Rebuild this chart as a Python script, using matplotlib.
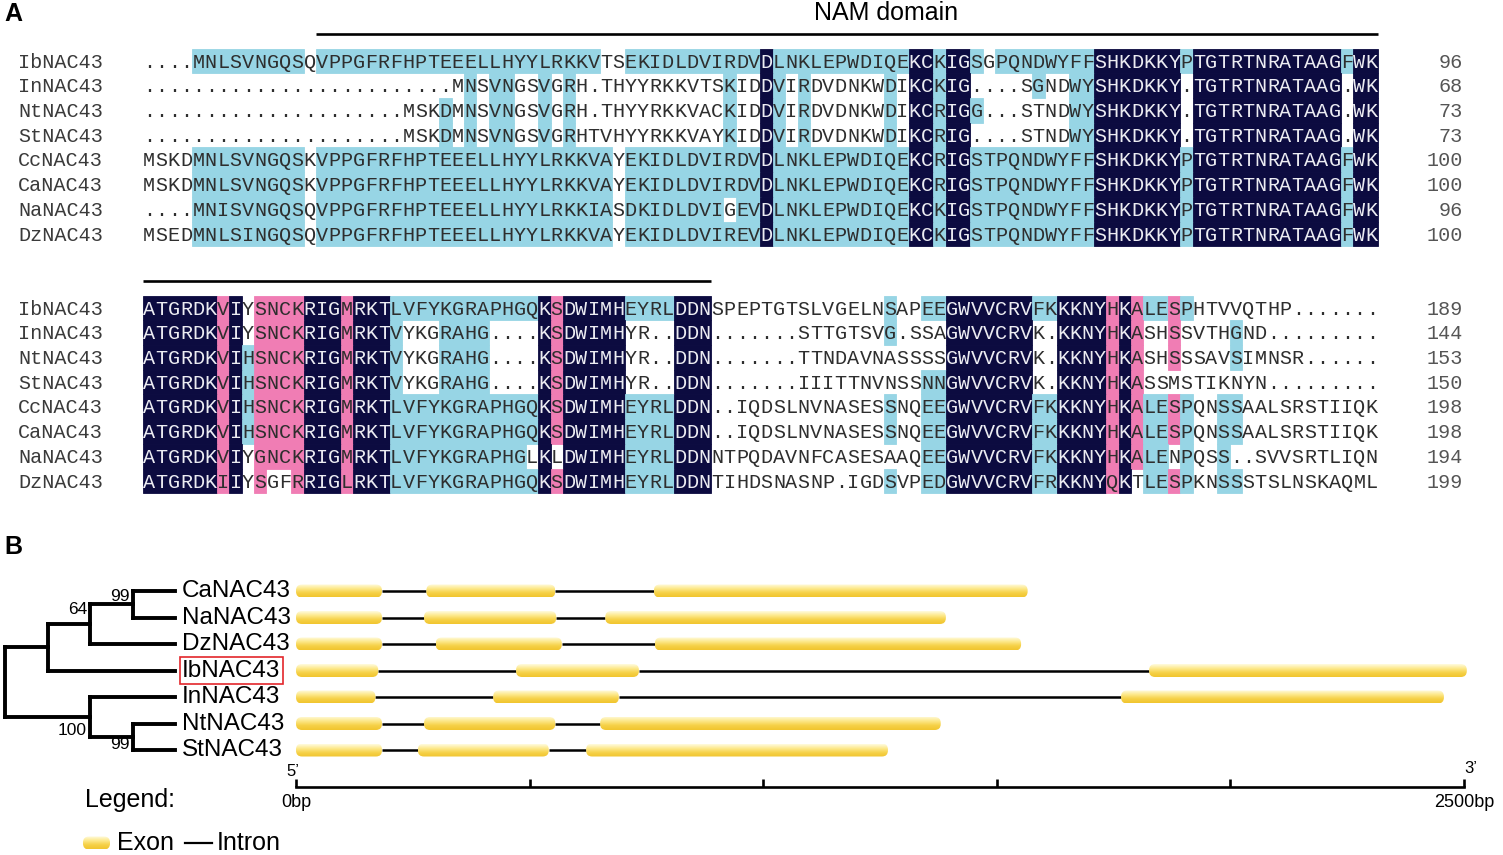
import numpy as np
import matplotlib
matplotlib.use('Agg')
import matplotlib.pyplot as plt
from matplotlib.patches import Rectangle, FancyBboxPatch
from matplotlib.colors import LinearSegmentedColormap

plt.rcParams['font.family'] = ['Liberation Sans', 'DejaVu Sans']

# ---------------- data: panel A (alignment) ----------------
names = ['IbNAC43', 'InNAC43', 'NtNAC43', 'StNAC43',
         'CcNAC43', 'CaNAC43', 'NaNAC43', 'DzNAC43']

block1_seqs = [
    '....MNLSVNGQSQVPPGFRFHPTEEELLHYYLRKKVTSEKIDLDVIRDVDLNKLEPWDIQEKCKIGSGPQNDWYFFSHKDKKYPTGTRTNRATAAGFWK',
    '.' * 25 + 'MNSVNGSVGRH.THYYRKKVTSKIDDVIRDVDNKWDIKCKIG....SGNDWYSHKDKKY.TGTRTNRATAAG.WK',
    '.' * 21 + 'MSKDMNSVNGSVGRH.THYYRKKVACKIDDVIRDVDNKWDIKCRIGG...STNDWYSHKDKKY.TGTRTNRATAAG.WK',
    '.' * 21 + 'MSKDMNSVNGSVGRHTVHYYRKKVAYKIDDVIRDVDNKWDIKCRIG....STNDWYSHKDKKY.TGTRTNRATAAG.WK',
    'MSKDMNLSVNGQSKVPPGFRFHPTEEELLHYYLRKKVAYEKIDLDVIRDVDLNKLEPWDIQEKCRIGSTPQNDWYFFSHKDKKYPTGTRTNRATAAGFWK',
    'MSKDMNLSVNGQSKVPPGFRFHPTEEELLHYYLRKKVAYEKIDLDVIRDVDLNKLEPWDIQEKCRIGSTPQNDWYFFSHKDKKYPTGTRTNRATAAGFWK',
    '....MNISVNGQSQVPPGFRFHPTEEELLHYYLRKKIASDKIDLDVIGEVDLNKLEPWDIQEKCKIGSTPQNDWYFFSHKDKKYPTGTRTNRATAAGFWK',
    'MSEDMNLSINGQSQVPPGFRFHPTEEELLHYYLRKKVAYEKIDLDVIREVDLNKLEPWDIQEKCKIGSTPQNDWYFFSHKDKKYPTGTRTNRATAAGFWK',
]
# shading per residue: n = 100% identity, p = >=75%, c = >=50%, - = none
block1_shade = [
    '----cccccc ccc-cccccc cccccccccc ccccccc--c cccccccccc nccccccccc ccnncnnc-c cccccccnnn nnnncnnnnn nnnnnnncnn',
    '---------- ---------- ------c-cc --c-c----- -------c-- nc-c------ c-nncnn--- --c--ccnnn nnnn-nnnnn nnnnnnn-nn',
    '---------- ---------- ----c-c-cc --c-c----- -------c-- nc-c------ c-nncnnc-- -----ccnnn nnnn-nnnnn nnnnnnn-nn',
    '---------- ---------- ----c-c-cc --c-c----- -------c-- nc-c------ c-nncnn--- -----ccnnn nnnn-nnnnn nnnnnnn-nn',
    '----cccccc ccc-cccccc cccccccccc cccccccc-c cccccccccc nccccccccc ccnncnnccc cccccccnnn nnnncnnnnn nnnnnnncnn',
    '----cccccc ccc-cccccc cccccccccc cccccccc-c cccccccccc nccccccccc ccnncnnccc cccccccnnn nnnncnnnnn nnnnnnncnn',
    '----cccccc ccc-cccccc cccccccccc cccccccc-c ccccccc-cc nccccccccc ccnncnnccc cccccccnnn nnnncnnnnn nnnnnnncnn',
    '----cccccc ccc-cccccc cccccccccc cccccccc-c cccccccccc nccccccccc ccnncnnccc cccccccnnn nnnncnnnnn nnnnnnncnn',
]
block1_ends = [96, 68, 73, 73, 100, 100, 96, 100]

block2_seqs = [
    'ATGRDKVIYSNCKRIGMRKTLVFYKGRAPHGQKSDWIMHEYRLDDNSPEPTGTSLVGELNSAPEEGWVVCRVFKKKNYHKALESPHTVVQTHP.......',
    'ATGRDKVIYSNCKRIGMRKTVYKGRAHG....KSDWIMHYR..DDN.......STTGTSVG.SSAGWVVCRVK.KKNYHKASHSSVTHGND.........',
    'ATGRDKVIHSNCKRIGMRKTVYKGRAHG....KSDWIMHYR..DDN.......TTNDAVNASSSSGWVVCRVK.KKNYHKASHSSSAVSIMNSR......',
    'ATGRDKVIHSNCKRIGMRKTVYKGRAHG....KSDWIMHYR..DDN.......IIITTNVNSSNNGWVVCRVK.KKNYHKASSMSTIKNYN.........',
    'ATGRDKVIHSNCKRIGMRKTLVFYKGRAPHGQKSDWIMHEYRLDDN..IQDSLNVNASESSNQEEGWVVCRVFKKKNYHKALESPQNSSAALSRSTIIQK',
    'ATGRDKVIHSNCKRIGMRKTLVFYKGRAPHGQKSDWIMHEYRLDDN..IQDSLNVNASESSNQEEGWVVCRVFKKKNYHKALESPQNSSAALSRSTIIQK',
    'ATGRDKVIYGNCKRIGMRKTLVFYKGRAPHGLKLDWIMHEYRLDDNNTPQDAVNFCASESAAQEEGWVVCRVFKKKNYHKALENPQSS..SVVSRTLIQN',
    'ATGRDKIIYSGFRRIGLRKTLVFYKGRAPHGQKSDWIMHEYRLDDNTIHDSNASNP.IGDSVPEDGWVVCRVFRKKNYQKTLESPKNSSSTSLNSKAQML',
]
block2_shade = [
    'nnnnnnpn-p pppnnnpnnn cccccccccc ccnpnnnnnc cccnnn---- ---------- c--ccnnnnn nnccnnnnpn pccpc----- ----------',
    'nnnnnnpn-p pppnnnpnnn c---cccc-- --npnnnnn- ---nnn---- ---------- c----nnnnn nn--nnnnpn p--p----c- ----------',
    'nnnnnnpncp pppnnnpnnn c---cccc-- --npnnnnn- ---nnn---- ---------- -----nnnnn nn--nnnnpn p--p----c- ----------',
    'nnnnnnpncp pppnnnpnnn c---cccc-- --npnnnnn- ---nnn---- ---------- ---ccnnnnn nn--nnnnpn p--------- ----------',
    'nnnnnnpncp pppnnnpnnn cccccccccc ccnpnnnnnc cccnnn---- ---------- c--ccnnnnn nnccnnnnpn pccpc--cc- ----------',
    'nnnnnnpncp pppnnnpnnn cccccccccc ccnpnnnnnc cccnnn---- ---------- c--ccnnnnn nnccnnnnpn pccpc--cc- ----------',
    'nnnnnnpn-p pppnnnpnnn cccccccccc c-n-nnnnnc cccnnn---- ---------- ---ccnnnnn nnccnnnnpn pcc-c--c-- ----------',
    'nnnnnnpn-p --pnnnpnnn cccccccccc ccnpnnnnnc cccnnn---- ---------- c--ccnnnnn nnccnnnnpn -ccpc--cc- ----------',
]
block2_ends = [189, 144, 153, 150, 198, 198, 194, 199]

nam_spans = [(15, 100), (1, 46)]   # first/last column of the NAM bar in each block

# ---------------- data: panel B (tree + gene structure) ----------------
gene_names = ['CaNAC43', 'NaNAC43', 'DzNAC43', 'IbNAC43', 'InNAC43', 'NtNAC43', 'StNAC43']
gene_exons = [
    [(0, 184), (279, 555), (766, 1566)],
    [(0, 184), (274, 557), (662, 1391)],
    [(0, 184), (299, 569), (768, 1552)],
    [(0, 176), (471, 734), (1826, 2506)],
    [(0, 170), (422, 691), (1766, 2457)],
    [(0, 184), (274, 555), (651, 1380)],
    [(0, 184), (261, 541), (621, 1267)],
]
ca_na = ('CaNAC43', 'NaNAC43')
ca_na_dz = (ca_na, 'DzNAC43')
nt_st = ('NtNAC43', 'StNAC43')
in_nt_st = ('InNAC43', nt_st)
tree = ((ca_na_dz, 'IbNAC43'), in_nt_st)
bootstrap = {ca_na: 99, ca_na_dz: 64, in_nt_st: 100, nt_st: 99}
highlight = 'IbNAC43'

# ---------------- layout ----------------
W, H = 1503, 855
fig = plt.figure(figsize=(W / 100, H / 100), dpi=100)


def px_axes(x0, y0, x1, y1):
    return fig.add_axes([x0 / W, 1 - y1 / H, (x1 - x0) / W, (y1 - y0) / H])


NAVY, PINK, CYAN = '#0c0b40', '#f07db4', '#97d5e5'
SHADE_COLORS = {'n': NAVY, 'p': PINK, 'c': CYAN}
MONO = 'Liberation Mono'
CW, RH, AX0, AY0 = 12.35, 24.7, 143, 61     # column width / row height in px
BASE = 0.27                                  # baseline offset (rows)

ax = px_axes(0, 0, W, 530)
ax.set_xlim(-AX0 / CW, (W - AX0) / CW)
ax.set_ylim((530 - AY0) / RH, -AY0 / RH)
ax.axis('off')


def draw_block(seqs, shades, ends, row0):
    for i, (seq, shade, end) in enumerate(zip(seqs, shades, ends)):
        r = row0 + i
        shade = shade.replace(' ', '').ljust(len(seq), '-')
        c = 0
        while c < len(shade):
            c2 = c
            while c2 < len(shade) and shade[c2] == shade[c]:
                c2 += 1
            if shade[c] in SHADE_COLORS:
                col = SHADE_COLORS[shade[c]]
                ax.add_patch(Rectangle((c, r - 0.5), c2 - c, 1, fc=col, ec=col, lw=0.6))
            c = c2
        for c, ch in enumerate(seq):
            tc = '#ececf2' if shade[c] == 'n' else '#2e2e2e'
            ax.text(c + 0.5, r + BASE, ch, ha='center', va='baseline',
                    fontsize=14.5, family=MONO, color=tc)
        ax.text((18 - AX0) / CW, r + BASE, names[i], ha='left', va='baseline',
                fontsize=14.5, family=MONO, color='#3a3a3a')
        ax.text((1463 - AX0) / CW, r + BASE, str(end), ha='right', va='baseline',
                fontsize=14.5, family=MONO, color='#555555')


draw_block(block1_seqs, block1_shade, block1_ends, 0)
draw_block(block2_seqs, block2_shade, block2_ends, 10)

for (c0, c1), row0 in zip(nam_spans, [0, 10]):
    ax.plot([c0 - 1, c1], [row0 - 1.1, row0 - 1.1], color='black', lw=1.9,
            solid_capstyle='butt')
ax.text(60.2, -1.94, 'NAM domain', ha='center', va='center', fontsize=18)

fig.text(13 / W, 1 - 14 / H, 'A', ha='center', va='center', fontsize=18, weight='bold')
fig.text(13 / W, 1 - 547 / H, 'B', ha='center', va='center', fontsize=18, weight='bold')

# ---------------- gene structure ----------------
GX0, GX1, GY0, GRH = 296, 1464, 591, 26.5
px_per_bp = (GX1 - GX0) / 2500
ylim_b = ((787 - GY0) / GRH, (570 - GY0) / GRH)

exon_cmap = LinearSegmentedColormap.from_list(
    'exon', ['#fffbe0', '#fde98c', '#f6d148', '#f1c52e'])
grad = np.linspace(0, 1, 64).reshape(-1, 1)


def draw_exon(a, x0, x1, y, h, aspect, rad):
    patch = FancyBboxPatch((x0, y - h / 2), x1 - x0, h,
                           boxstyle=f'round,pad=0,rounding_size={rad}',
                           mutation_aspect=aspect, fc='none', ec='none')
    a.add_patch(patch)
    im = a.imshow(grad, cmap=exon_cmap, extent=(x0, x1, y + h / 2, y - h / 2),
                  aspect='auto', interpolation='bilinear', zorder=3)
    im.set_clip_path(patch)


gax = px_axes(GX0, 570, W, 787)
exon_h = 13 / GRH
aspect = px_per_bp / GRH
for i, exons in enumerate(gene_exons):
    for (s0, e0), (s1, e1) in zip(exons[:-1], exons[1:]):
        gax.plot([e0, s1], [i, i], color='black', lw=1.8, solid_capstyle='butt', zorder=2)
    for s, e in exons:
        draw_exon(gax, s, e, i, exon_h, aspect, 6 / px_per_bp)
gax.set_xlim(0, (W - GX0) / px_per_bp)
gax.set_ylim(*ylim_b)
for sp in ['top', 'left', 'right']:
    gax.spines[sp].set_visible(False)
gax.spines['bottom'].set_bounds(0, 2500)
gax.spines['bottom'].set_linewidth(1.9)
gax.set_yticks([])
gax.set_xticks(np.arange(0, 2501, 500))
gax.set_xticklabels(['0bp', '', '', '', '', '2500bp'], fontsize=13)
gax.tick_params(axis='x', direction='in', length=5.8, width=1.9, pad=5)
gax.patch.set_visible(False)
gax.text(-6, (771 - GY0) / GRH, '5’', ha='center', va='center', fontsize=12)
gax.text(2515, (768 - GY0) / GRH, '3’', ha='center', va='center', fontsize=12)

# ---------------- tree ----------------
TX0, TSTEP, LEAF_DEPTH = 5, 42.5, 4
tax = px_axes(0, 570, GX0, 787)
tax.set_xlim(-TX0 / TSTEP, (GX0 - TX0) / TSTEP)
tax.set_ylim(*ylim_b)
tax.axis('off')
TLW = 2.8


def child_y(node):
    if isinstance(node, str):
        return gene_names.index(node)
    return (child_y(node[0]) + child_y(node[-1])) / 2


def node_height(node):
    if isinstance(node, str):
        return 0
    return 1 + max(node_height(k) for k in node)


def draw_node(node):
    if isinstance(node, str):
        return
    d = LEAF_DEPTH - node_height(node)
    ys = [child_y(k) for k in node]
    tax.plot([d, d], [ys[0], ys[-1]], color='black', lw=TLW, solid_capstyle='projecting')
    for k, ky in zip(node, ys):
        tax.plot([d, LEAF_DEPTH - node_height(k)], [ky, ky], color='black', lw=TLW,
                 solid_capstyle='projecting')
        draw_node(k)
    if node in bootstrap:
        if child_y(node) < child_y(tree):
            y = ys[0] + 5 / GRH
        else:
            y = ys[-1] - 6 / GRH
        tax.text(d - 3 / TSTEP, y, str(bootstrap[node]), ha='right', va='center',
                 fontsize=12.5)


draw_node(tree)

for i, g in enumerate(gene_names):
    kw = {}
    if g == highlight:
        kw['bbox'] = dict(boxstyle='square,pad=0.1', fc='none', ec='#e3262b', lw=1.2)
    tax.text(LEAF_DEPTH + 7 / TSTEP, i, g, ha='left', va='center', fontsize=17.5, **kw)

# ---------------- legend ----------------
lax = px_axes(0, 780, 320, H)
lax.axis('off')
lax.text(85, 800, 'Legend:', ha='left', va='center', fontsize=18)
draw_exon(lax, 83, 110, 843, 13, 1, 6)
lax.text(117, 843, 'Exon', ha='left', va='center', fontsize=18)
lax.plot([185, 212], [843, 843], color='black', lw=1.6)
lax.text(217, 843, 'Intron', ha='left', va='center', fontsize=18)
lax.set_xlim(0, 320)
lax.set_ylim(H, 780)

fig.savefig('out.png', dpi=100)
